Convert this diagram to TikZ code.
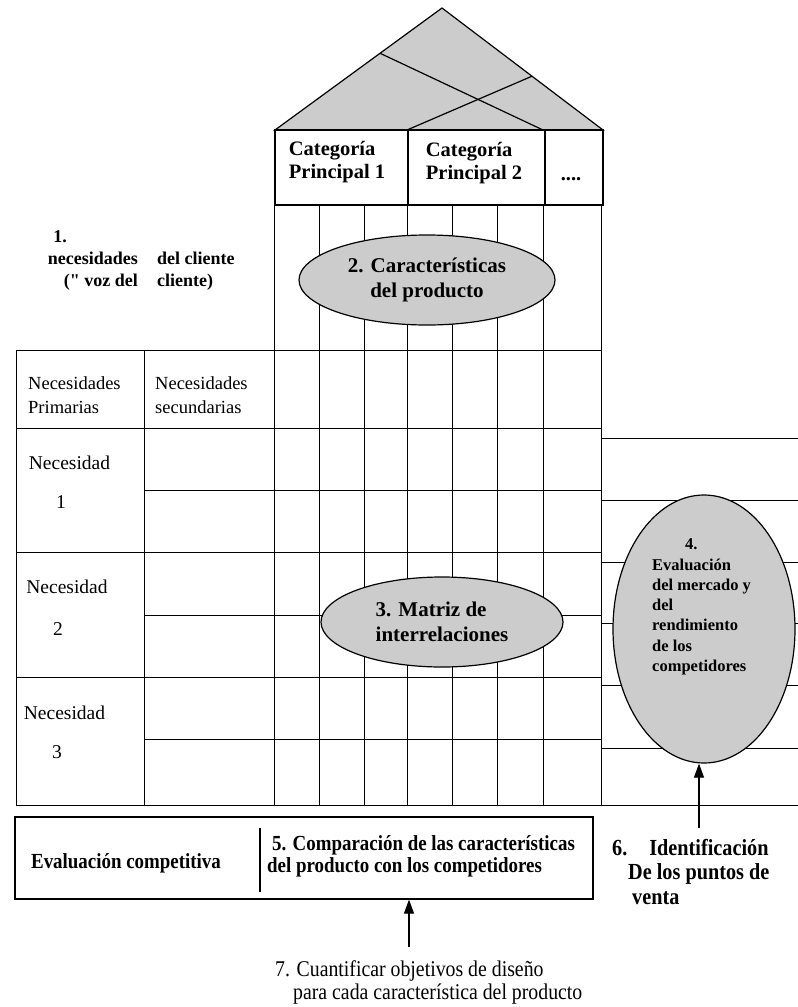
\documentclass[tikz,border=0pt]{standalone}
\usepackage{fontspec}
\setmainfont{Liberation Serif}
\newfontfamily\condfont[FakeStretch=0.88]{Liberation Serif}
\usetikzlibrary{shapes.geometric,arrows.meta,calc}
\definecolor{halftone}{gray}{0.80}
\newcommand\fCat{\fontsize{20.5}{23.5}\selectfont\bfseries}
\newcommand\fBub{\fontsize{21}{25}\selectfont\bfseries}
\newcommand\fOne{\fontsize{18}{22}\selectfont\bfseries}
\newcommand\fHead{\fontsize{18.5}{24}\selectfont}
\newcommand\fNec{\fontsize{19.5}{24}\selectfont}
\newcommand\fSmall{\fontsize{16.5}{20.3}\selectfont\bfseries}
\newcommand\fCondB{\condfont\fontsize{21.5}{22}\selectfont\bfseries}
\newcommand\fCondR{\condfont\fontsize{22.5}{23}\selectfont}
\newcommand\fSix{\condfont\fontsize{23}{24.5}\selectfont\bfseries}
\newcommand\straightquote{{\addfontfeature{Ligatures=TeXOff}"}}
\begin{document}
\begin{tikzpicture}[x=1pt,y=-1pt,
  gridline/.style={line width=0.9pt},
  frame/.style={line width=1.2pt},
  shade/.style={fill=halftone},
  bubble/.style={ellipse,draw,line width=1.2pt,fill=halftone,inner sep=0pt},
  arr/.style={line width=1.1pt,-{Triangle[length=14pt,width=10pt]}},
  txt/.style={inner sep=0pt}]
\useasboundingbox[fill=white] (0,0) rectangle (798,1007);

% roof
\coordinate (rl) at (275,130);
\coordinate (ra) at (442,8);
\coordinate (rr) at (603,130);
\filldraw[frame,shade] (rl) -- (ra) -- (rr) -- cycle;
\draw[frame] ($(rl)!0.629!(ra)$) -- (543,130);
\draw[frame] (407,130) -- ($(ra)!0.559!(rr)$);

% category row
\draw[frame] (275,130) rectangle (603,205);
\draw[frame] (408,130) -- (408,205);
\draw[frame] (545,130) -- (545,205);
\node[txt,align=left,font=\fCat] (cat1) at (337,162) {Categoría\\Principal 1};
\node[txt,align=left,font=\fCat] (cat2) at (474,163) {Categoría\\Principal 2};
\node[txt,font=\fCat] (cat3) at (571,179) {....};

% matrix columns
\foreach \x in {274,319,364,407,452,497,543,601}
  \draw[gridline] (\x,205) -- (\x,805);
% left table
\draw[gridline] (16,350) -- (16,805);
\draw[gridline] (144,350) -- (144,805);
\foreach \y in {350,428,552,677,805}
  \draw[gridline] (16,\y) -- (601,\y);
\foreach \y in {490,615,739}
  \draw[gridline] (144,\y) -- (601,\y);
% right table
\foreach \y in {438,500,562,623,685,748,805}
  \draw[gridline] (601,\y) -- (798,\y);

% label 1
\node[txt,font=\fOne] (one) at (60,237) {1.};
\node[txt,align=right,anchor=east,font=\fOne] (oneA) at (138,271) {necesidades\\(\straightquote\ voz del};
\node[txt,align=left,anchor=west,font=\fOne] (oneB) at (157,271) {del cliente\\cliente)};

% headers
\node[txt,align=left,anchor=west,font=\fHead] (hp) at (28,395) {Necesidades\\Primarias};
\node[txt,align=left,anchor=west,font=\fHead] (hs) at (155,395) {Necesidades\\secundarias};

\node[txt,font=\fNec] (n1) at (69.5,463) {Necesidad};
\node[txt,font=\fNec] (n1n) at (61,502) {1};
\node[txt,font=\fNec] (n2) at (67,587) {Necesidad};
\node[txt,font=\fNec] (n2n) at (58,629) {2};
\node[txt,font=\fNec] (n3) at (64.5,713) {Necesidad};
\node[txt,font=\fNec] (n3n) at (57,752) {3};

% bubbles
\node[bubble,minimum width=256pt,minimum height=90pt,align=center,font=\fBub] (e2) at (427,280) {2. Características\\del producto};
\node[bubble,minimum width=242pt,minimum height=90pt,align=left,font=\fBub] (e3) at (442,622) {3. Matriz de\\interrelaciones};
\node[bubble,minimum width=182pt,minimum height=268pt] (e4) at (704,629) {};
\node[txt,align=left,anchor=west,font=\fSmall] (e4t) at (652,607) {\hspace*{33pt}4.\\Evaluación\\del mercado y\\del\\rendimiento\\de los\\competidores};

% bottom box
\node[draw,frame,minimum width=578pt,minimum height=82pt,inner sep=0pt] (bbox) at (304,858) {};
\draw[frame] (260,828) -- (260,892);
\node[txt,font=\fCondB] (evc) at (126,863) {Evaluación competitiva};
\node[txt,align=left,anchor=west,font=\fCondB] (cmp) at (267,856) {\hspace*{5pt}5. Comparación de las características\\del producto con los competidores};

% label 6 and arrow
\node[txt,align=left,anchor=west,font=\fSix] (six) at (612,872) {6.\hspace*{22pt}Identificación\\\hspace*{16pt}De los puntos de\\\hspace*{20pt}venta};
\coordinate (a6s) at (699,828);
\draw[arr] (a6s) -- (a6s |- e4.south);

% label 7 and arrow
\node[txt,align=left,anchor=west,font=\fCondR] (seven) at (275,982) {7. Cuantificar objetivos de diseño\\\hspace*{18pt}para cada característica del producto};
\coordinate (a7s) at (409,947);
\draw[arr] (a7s) -- (a7s |- bbox.south);
\end{tikzpicture}
\end{document}
